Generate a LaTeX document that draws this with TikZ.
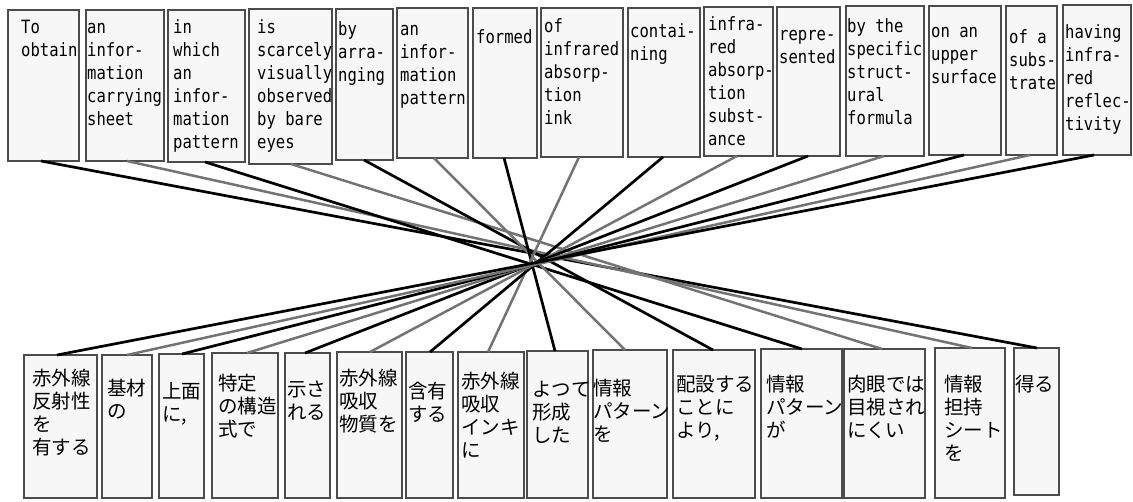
\documentclass[tikz,border=0pt]{standalone}
\usepackage{fontspec}
\newfontfamily\enfam[FakeStretch=0.85]{DejaVu Sans Mono}
\newfontfamily\jpfam{Noto Sans CJK JP}
\newcommand\ENF{\enfam\fontsize{18.3}{23}\selectfont}
\newcommand\JPF{\jpfam\fontsize{19.5}{23}\selectfont}
\newcommand\tb[1]{\begin{tabular}[t]{@{}l@{}}#1\end{tabular}}
\tikzset{
  box/.style={draw=black!70, fill=black!3, line width=1.2pt, rectangle, anchor=north west, inner sep=0pt, outer sep=0pt},
  en/.style={anchor=base west, inner sep=0pt, font=\ENF},
  jp/.style={anchor=base west, inner sep=0pt, font=\JPF},
  kline/.style={draw=black, line width=2.7pt},
  gline/.style={draw=black!55, line width=2.5pt}
}
\newcommand\bx[5]{\node[box, minimum width=#4pt, minimum height=#5pt] (#1) at (#2,#3) {};}
\begin{document}
\begin{tikzpicture}[x=1pt,y=-1pt]
\useasboundingbox (0,0) rectangle (1133,501);
% top boxes
\bx{t1}{8}{10}{71}{151}
\bx{t2}{86}{10}{78}{151}
\bx{t3}{168}{10}{77}{152}
\bx{t4}{249}{9}{83}{155}
\bx{t5}{336}{9}{57}{151}
\bx{t6}{397}{8}{71}{150}
\bx{t7}{473}{8}{64}{150}
\bx{t8}{541}{8}{82}{149}
\bx{t9}{628}{8}{72}{149}
\bx{t10}{704}{7}{69}{149}
\bx{t11}{777}{7}{63}{149}
\bx{t12}{846}{6}{78}{150}
\bx{t13}{929}{6}{72}{149}
\bx{t14}{1006}{6}{51}{149}
\bx{t15}{1063}{5}{68}{150}
% bottom boxes
\bx{b1}{24}{355}{73}{143}
\bx{b2}{102}{355}{50}{143}
\bx{b3}{159}{354}{45}{144}
\bx{b4}{212}{353}{66}{145}
\bx{b5}{285}{353}{45}{145}
\bx{b6}{337}{352}{65}{146}
\bx{b7}{406}{352}{47}{146}
\bx{b8}{458}{352}{66}{146}
\bx{b9}{527}{351}{61}{147}
\bx{b10}{593}{350}{74}{148}
\bx{b11}{673}{350}{82}{148}
\bx{b12}{761}{349}{81}{149}
\bx{b13}{844}{349}{81}{149}
\bx{b14}{935}{348}{70}{150}
\bx{b15}{1014}{348}{45}{147}
% connectors
\draw[kline] (41,0 |- t1.south) -- (1037,0 |- b15.north);
\draw[gline] (127,0 |- t2.south) -- (972,0 |- b14.north);
\draw[kline] (205,0 |- t3.south) -- (802,0 |- b12.north);
\draw[gline] (291,0 |- t4.south) -- (882,0 |- b13.north);
\draw[kline] (364,0 |- t5.south) -- (713,0 |- b11.north);
\draw[gline] (434,0 |- t6.south) -- (625,0 |- b10.north);
\draw[kline] (504,0 |- t7.south) -- (555,0 |- b9.north);
\draw[gline] (579,0 |- t8.south) -- (488,0 |- b8.north);
\draw[kline] (663,0 |- t9.south) -- (430,0 |- b7.north);
\draw[gline] (737,0 |- t10.south) -- (370,0 |- b6.north);
\draw[kline] (808,0 |- t11.south) -- (305,0 |- b5.north);
\draw[gline] (884,0 |- t12.south) -- (247,0 |- b4.north);
\draw[kline] (964,0 |- t13.south) -- (182,0 |- b3.north);
\draw[gline] (1030,0 |- t14.south) -- (127,0 |- b2.north);
\draw[kline] (1094,0 |- t15.south) -- (57,0 |- b1.north);
% top texts
\node[en] (t1x) at (21,33) {\tb{To\\obtain}};
\node[en] (t2x) at (87,33) {\tb{an\\infor-\\mation\\carrying\\sheet}};
\node[en] (t3x) at (173,33) {\tb{in\\which\\an\\infor-\\mation\\pattern}};
\node[en] (t4x) at (257,33) {\tb{is\\scarcely\\visually\\observed\\by bare\\eyes}};
\node[en] (t5x) at (338,35) {\tb{by\\arra-\\nging}};
\node[en] (t6x) at (400,35) {\tb{an\\infor-\\mation\\pattern}};
\node[en] (t7x) at (476,43) {\tb{formed}};
\node[en] (t8x) at (544,32) {\tb{of\\infrared\\absorp-\\tion\\ink}};
\node[en] (t9x) at (630,37) {\tb{contai-\\ning}};
\node[en] (t10x) at (708,30) {\tb{infra-\\red\\absorp-\\tion\\subst-\\ance}};
\node[en] (t11x) at (779,40) {\tb{repre-\\sented}};
\node[en] (t12x) at (847,32) {\tb{by the\\specific\\struct-\\ural\\formula}};
\node[en] (t13x) at (931,37) {\tb{on an\\upper\\surface}};
\node[en] (t14x) at (1009,43) {\tb{of a\\subs-\\trate}};
\node[en] (t15x) at (1065,38) {\tb{having\\infra-\\red\\reflec-\\tivity}};
% bottom texts
\node[jp] (b1x) at (32,385) {\tb{赤外線\\反射性\\を\\有する}};
\node[jp] (b2x) at (107,395) {\tb{基材\\の}};
\node[jp] (b3x) at (162,398) {\tb{上面\\に,}};
\node[jp] (b4x) at (218,390) {\tb{特定\\の構造\\式で}};
\node[jp] (b5x) at (287,396) {\tb{示さ\\れる}};
\node[jp] (b6x) at (339,385) {\tb{赤外線\\吸収\\物質を}};
\node[jp] (b7x) at (408,398) {\tb{含有\\する}};
\node[jp] (b8x) at (461,388) {\tb{赤外線\\吸収\\インキ\\に}};
\node[jp] (b9x) at (532,396) {\tb{よつて\\形成\\した}};
\node[jp] (b10x) at (593,395) {\tb{情報\\パターン\\を}};
\node[jp] (b11x) at (676,391) {\tb{配設する\\ことに\\より,}};
\node[jp] (b12x) at (766,391) {\tb{情報\\パターン\\が}};
\node[jp] (b13x) at (847,391) {\tb{肉眼では\\目視され\\にくい}};
\node[jp] (b14x) at (944,391) {\tb{情報\\担持\\シート\\を}};
\node[jp] (b15x) at (1015,391) {\tb{得る}};
\end{tikzpicture}
\end{document}
